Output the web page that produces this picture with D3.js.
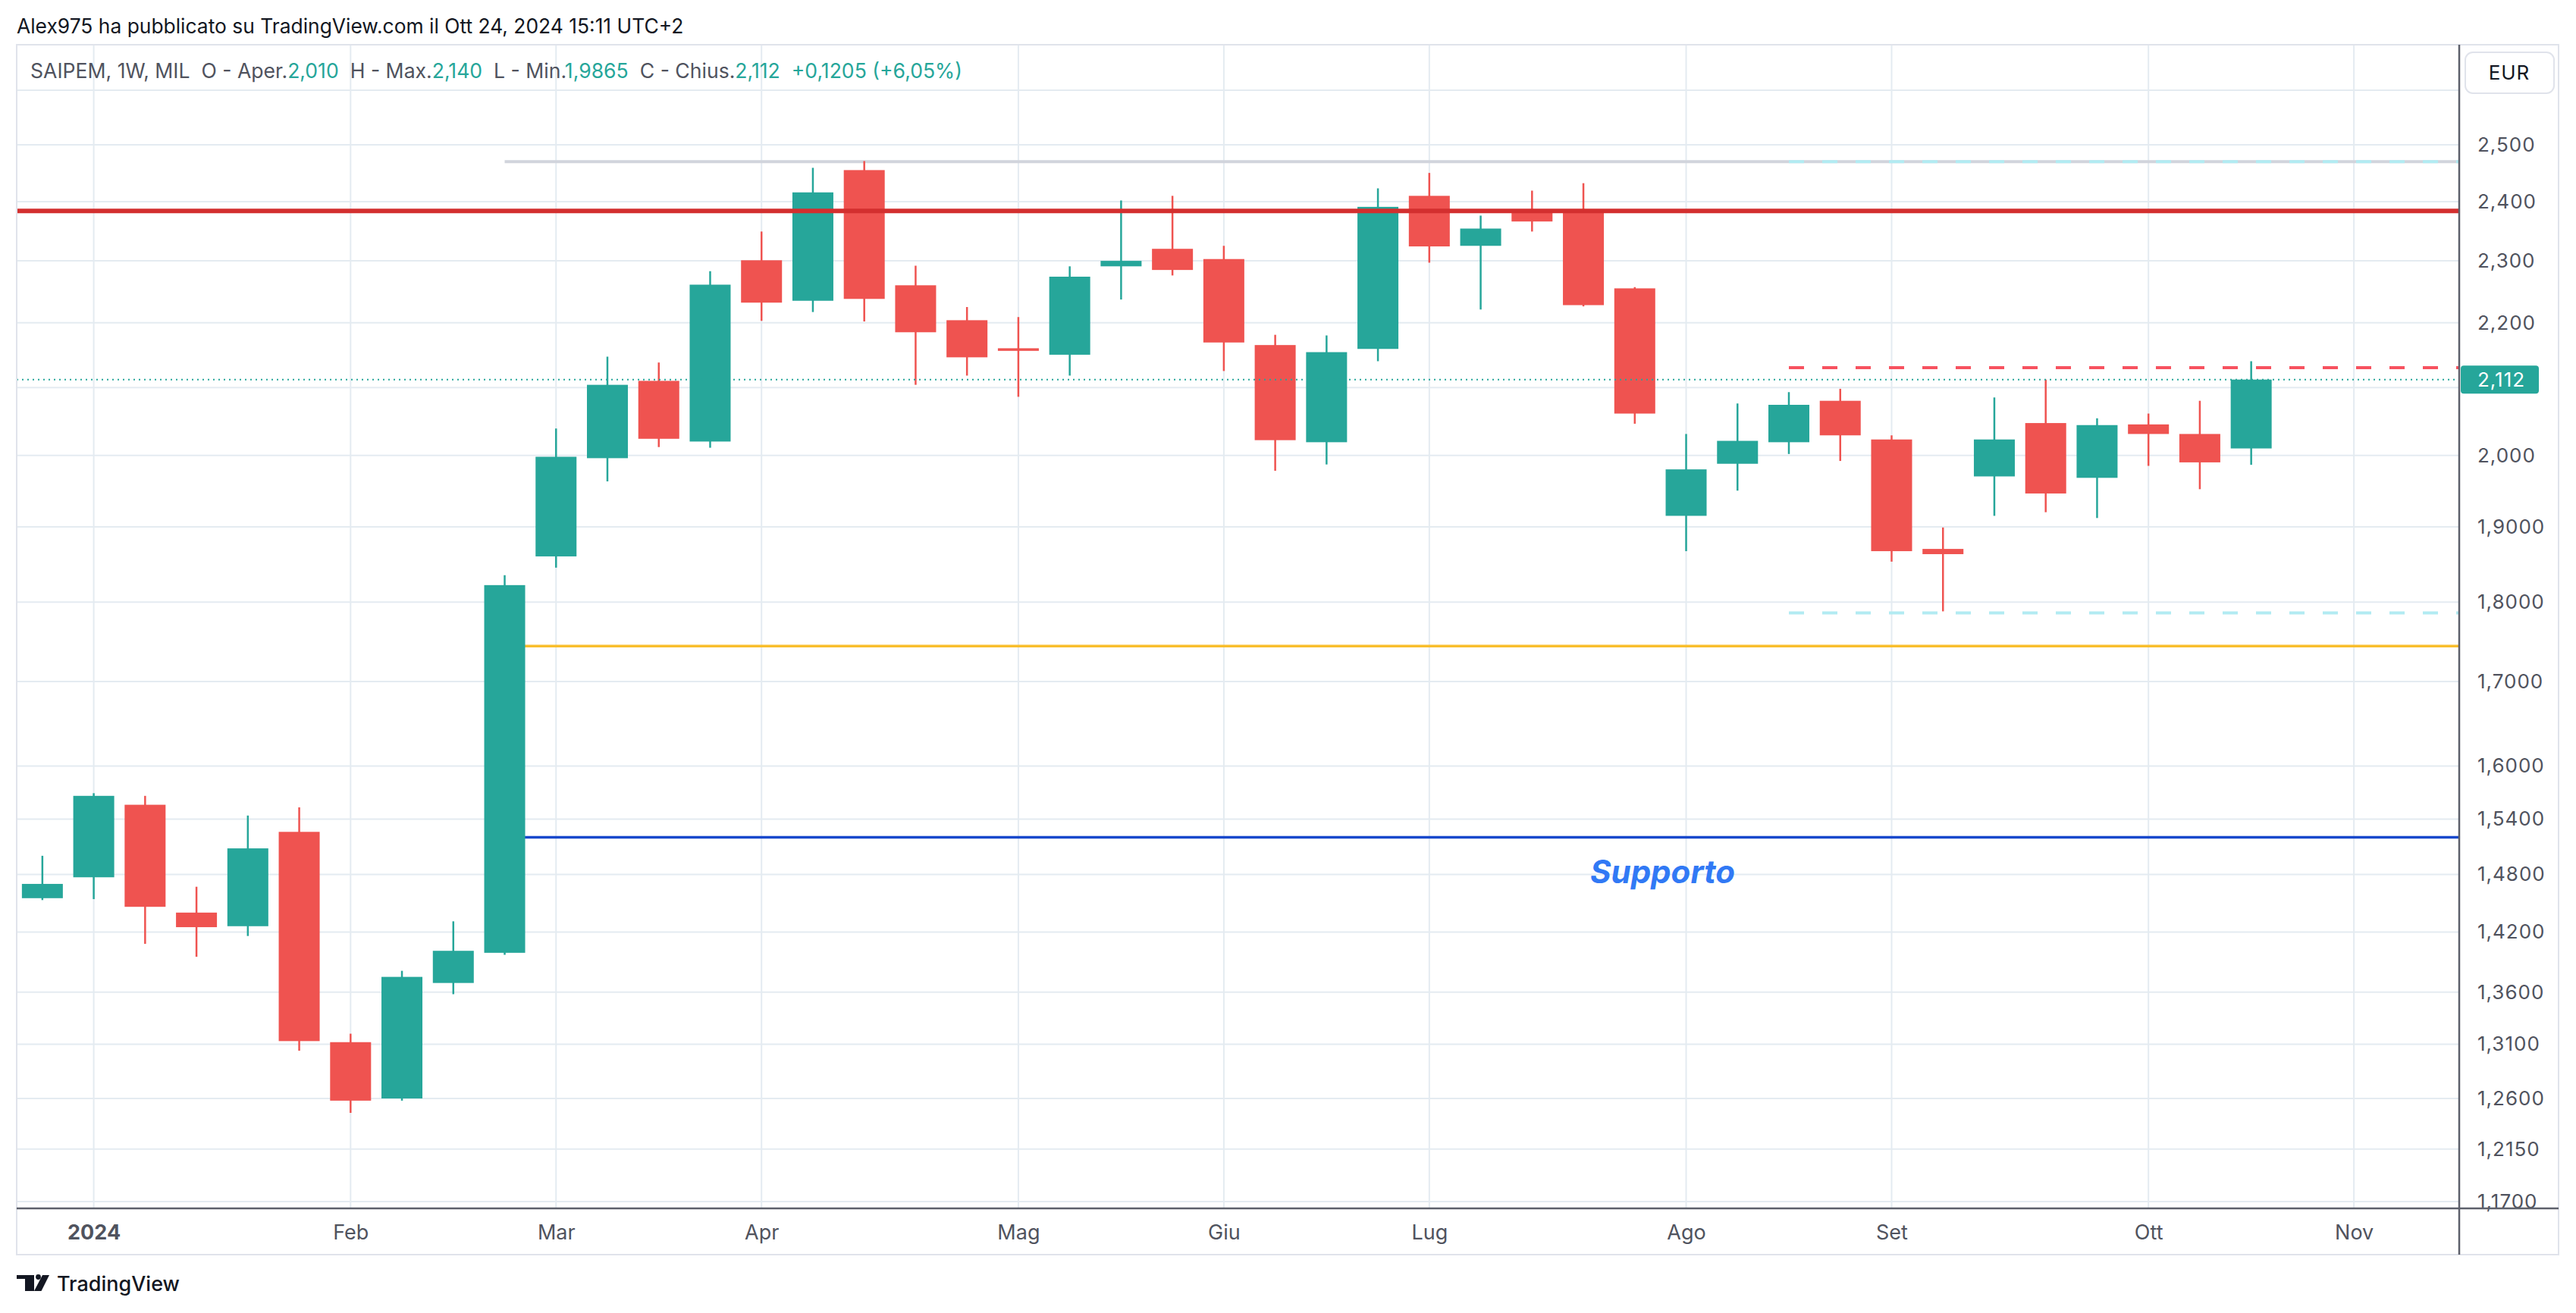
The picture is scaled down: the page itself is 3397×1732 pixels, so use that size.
<!DOCTYPE html>
<html>
<head>
<meta charset="utf-8">
<script src="https://cdn.jsdelivr.net/npm/d3@7"></script>
<style>
  html, body { margin: 0; padding: 0; background: #ffffff; }
  svg { display: block; font-family: "Inter", "Noto Sans", sans-serif; }
</style>
</head>
<body>
<div id="chart"></div>
<script>
// SAIPEM weekly candles (MIL), one bar per week, Monday dates
const weeks = [
  "2023-12-25", "2024-01-01", "2024-01-08", "2024-01-15", "2024-01-22", "2024-01-29",
  "2024-02-05", "2024-02-12", "2024-02-19", "2024-02-26", "2024-03-04", "2024-03-11",
  "2024-03-18", "2024-03-25", "2024-04-01", "2024-04-08", "2024-04-15", "2024-04-22",
  "2024-04-29", "2024-05-06", "2024-05-13", "2024-05-20", "2024-05-27", "2024-06-03",
  "2024-06-10", "2024-06-17", "2024-06-24", "2024-07-01", "2024-07-08", "2024-07-15",
  "2024-07-22", "2024-07-29", "2024-08-05", "2024-08-12", "2024-08-19", "2024-08-26",
  "2024-09-02", "2024-09-09", "2024-09-16", "2024-09-23", "2024-09-30", "2024-10-07",
  "2024-10-14", "2024-10-21"
];
const opens = [
  1.455, 1.477, 1.556, 1.440, 1.426, 1.526, 1.312, 1.260, 1.369, 1.399, 1.860, 1.996,
  2.110, 2.020, 2.301, 2.235, 2.455, 2.260, 2.204, 2.160, 2.150, 2.291, 2.320, 2.303,
  2.165, 2.019, 2.159, 2.410, 2.325, 2.382, 2.386, 2.255, 1.915, 1.988, 2.019, 2.080,
  2.023, 1.870, 1.970, 2.047, 1.968, 2.045, 2.031, 2.010
];
const highs = [
  1.500, 1.569, 1.566, 1.467, 1.544, 1.553, 1.320, 1.381, 1.431, 1.835, 2.039, 2.147,
  2.138, 2.283, 2.349, 2.459, 2.471, 2.292, 2.225, 2.209, 2.291, 2.402, 2.410, 2.325,
  2.181, 2.180, 2.423, 2.450, 2.376, 2.419, 2.432, 2.257, 2.031, 2.076, 2.093, 2.098,
  2.029, 1.899, 2.085, 2.112, 2.054, 2.061, 2.080, 2.140
];
const lows = [
  1.453, 1.454, 1.408, 1.395, 1.416, 1.304, 1.247, 1.258, 1.358, 1.397, 1.845, 1.963,
  2.012, 2.011, 2.203, 2.217, 2.202, 2.104, 2.118, 2.086, 2.118, 2.237, 2.276, 2.125,
  1.978, 1.987, 2.140, 2.297, 2.221, 2.349, 2.226, 2.046, 1.867, 1.950, 2.002, 1.992,
  1.853, 1.788, 1.915, 1.920, 1.912, 1.985, 1.952, 1.9865
];
const closes = [
  1.470, 1.566, 1.446, 1.425, 1.508, 1.313, 1.258, 1.375, 1.401, 1.822, 1.998, 2.104,
  2.024, 2.261, 2.232, 2.416, 2.238, 2.185, 2.146, 2.156, 2.274, 2.300, 2.285, 2.169,
  2.022, 2.154, 2.391, 2.324, 2.354, 2.366, 2.228, 2.061, 1.980, 2.021, 2.074, 2.029,
  1.867, 1.863, 2.023, 1.946, 2.044, 2.031, 1.990, 2.112
];

// price axis (2,600 sits under the EUR button, 2,100 under the last price tag)
const priceTicks = [2.6, 2.5, 2.4, 2.3, 2.2, 2.1, 2.0, 1.9, 1.8, 1.7, 1.6, 1.54, 1.48, 1.42, 1.36, 1.31, 1.26, 1.215, 1.17];
const priceLabels = ["", "2,500", "2,400", "2,300", "2,200", "", "2,000", "1,9000", "1,8000", "1,7000",
  "1,6000", "1,5400", "1,4800", "1,4200", "1,3600", "1,3100", "1,2600", "1,2150", "1,1700"];

// time axis: first weekly bar of each month
const monthDates = ["2024-01-01", "2024-02-05", "2024-03-04", "2024-04-01", "2024-05-06", "2024-06-03",
  "2024-07-01", "2024-08-05", "2024-09-02", "2024-10-07", "2024-11-04"];
const monthLabels = ["2024", "Feb", "Mar", "Apr", "Mag", "Giu", "Lug", "Ago", "Set", "Ott", "Nov"];

// drawn levels
const resistance = 2.384;
const topLevel = 2.470;
const yellowLevel = 1.744;
const supportLevel = 1.520;
const levelsFrom = "2024-02-26";
const targetUp = 2.130;
const targetDown = 1.786;
const targetFrom = "2024-08-19";
const lastPrice = 2.112;

const W = 3397, H = 1732;
const pane = { left: 22, top: 59, right: 3243, bottom: 1594 };
const frame = { right: 3374, bottom: 1655 };

const up = "#26a69a", down = "#ef5350";
const gridColor = "#e4ebf1";
const axisText = "#50535e";

const parse = d3.utcParse("%Y-%m-%d");
const WEEK = 7 * 24 * 3600 * 1000;
const t0 = parse(weeks[0]).getTime();

const x = d3.scaleUtc()
  .domain([new Date(t0 - 0.5 * WEEK), new Date(t0 + 47.05 * WEEK)])
  .range([pane.left, pane.right]);

const y = d3.scaleLog()
  .domain([1.1643, 2.6864])
  .range([pane.bottom, pane.top]);

const bars = weeks.map((w, i) => ({
  date: parse(w), o: opens[i], h: highs[i], l: lows[i], c: closes[i]
}));

const svg = d3.select("#chart").append("svg")
  .attr("width", W).attr("height", H);

svg.append("rect").attr("width", W).attr("height", H).attr("fill", "#ffffff");

svg.append("defs").append("clipPath").attr("id", "pane-clip")
  .append("rect")
  .attr("x", pane.left).attr("y", pane.top)
  .attr("width", pane.right - pane.left).attr("height", pane.bottom - pane.top);

// header
svg.append("text")
  .attr("x", 22).attr("y", 44)
  .attr("font-size", 26.4).attr("fill", "#131722")
  .text("Alex975 ha pubblicato su TradingView.com il Ott 24, 2024 15:11 UTC+2");

// grid
const grid = svg.append("g").attr("clip-path", "url(#pane-clip)");
grid.selectAll("line.h").data(priceTicks).join("line")
  .attr("class", "h")
  .attr("x1", pane.left).attr("x2", pane.right)
  .attr("y1", d => y(d)).attr("y2", d => y(d))
  .attr("stroke", gridColor).attr("stroke-width", 2);
grid.selectAll("line.v").data(monthDates).join("line")
  .attr("class", "v")
  .attr("x1", d => x(parse(d))).attr("x2", d => x(parse(d)))
  .attr("y1", pane.top).attr("y2", pane.bottom)
  .attr("stroke", gridColor).attr("stroke-width", 2);

// levels and drawings
const draw = svg.append("g").attr("clip-path", "url(#pane-clip)");
const xFrom = x(parse(levelsFrom));
const xTarget = x(parse(targetFrom));

draw.append("line")
  .attr("x1", xFrom).attr("x2", pane.right)
  .attr("y1", y(topLevel)).attr("y2", y(topLevel))
  .attr("stroke", "#d1d4dc").attr("stroke-width", 4);
draw.append("line")
  .attr("x1", xTarget).attr("x2", pane.right)
  .attr("y1", y(topLevel)).attr("y2", y(topLevel))
  .attr("stroke", "#b2ebf2").attr("stroke-width", 4)
  .attr("stroke-dasharray", "20,24");
draw.append("line")
  .attr("x1", xFrom).attr("x2", pane.right)
  .attr("y1", y(yellowLevel)).attr("y2", y(yellowLevel))
  .attr("stroke", "#f9be2c").attr("stroke-width", 3.5);
draw.append("line")
  .attr("x1", xFrom).attr("x2", pane.right)
  .attr("y1", y(supportLevel)).attr("y2", y(supportLevel))
  .attr("stroke", "#1848cc").attr("stroke-width", 3.5);
draw.append("line")
  .attr("x1", xTarget).attr("x2", pane.right)
  .attr("y1", y(targetUp)).attr("y2", y(targetUp))
  .attr("stroke", "#f7525f").attr("stroke-width", 4)
  .attr("stroke-dasharray", "20,24");
draw.append("line")
  .attr("x1", xTarget).attr("x2", pane.right)
  .attr("y1", y(targetDown)).attr("y2", y(targetDown))
  .attr("stroke", "#b2ebf2").attr("stroke-width", 4)
  .attr("stroke-dasharray", "20,24");

draw.append("text")
  .attr("x", 2097).attr("y", 1165)
  .attr("font-size", 42).attr("font-weight", 700).attr("font-style", "italic")
  .attr("fill", "#3179f5")
  .text("Supporto");

// candles
const bodyW = 54;
const candles = svg.append("g").attr("clip-path", "url(#pane-clip)")
  .selectAll("g").data(bars).join("g");
candles.append("line")
  .attr("x1", d => x(d.date)).attr("x2", d => x(d.date))
  .attr("y1", d => y(d.h)).attr("y2", d => y(d.l))
  .attr("stroke", d => d.c >= d.o ? up : down)
  .attr("stroke-width", 2.5);
candles.append("rect")
  .attr("x", d => x(d.date) - bodyW / 2)
  .attr("width", bodyW)
  .attr("y", d => y(Math.max(d.o, d.c)))
  .attr("height", d => Math.max(2, y(Math.min(d.o, d.c)) - y(Math.max(d.o, d.c))))
  .attr("fill", d => d.c >= d.o ? up : down);

// resistance on top of candles
svg.append("line")
  .attr("x1", pane.left).attr("x2", pane.right)
  .attr("y1", y(resistance)).attr("y2", y(resistance))
  .attr("stroke", "#d32f2f").attr("stroke-width", 6);

// last price line
svg.append("line")
  .attr("x1", pane.left).attr("x2", pane.right)
  .attr("y1", y(lastPrice)).attr("y2", y(lastPrice))
  .attr("stroke", up).attr("stroke-width", 2)
  .attr("stroke-dasharray", "2,5");

// legend
const legend = svg.append("text")
  .attr("x", 40).attr("y", 103)
  .attr("font-size", 26.6).attr("fill", axisText)
  .attr("xml:space", "preserve").style("white-space", "pre");
[
  ["SAIPEM, 1W, MIL  O - Aper.", axisText], ["2,010", up],
  ["  H - Max.", axisText], ["2,140", up],
  ["  L - Min.", axisText], ["1,9865", up],
  ["  C - Chius.", axisText], ["2,112", up],
  ["  +0,1205 (+6,05%)", up]
].forEach(([t, c]) => legend.append("tspan").attr("fill", c).text(t));

// frame
svg.append("rect")
  .attr("x", pane.left).attr("y", pane.top)
  .attr("width", frame.right - pane.left).attr("height", frame.bottom - pane.top)
  .attr("fill", "none").attr("stroke", "#e0e3eb").attr("stroke-width", 2);

// price axis
const yAxis = svg.append("g")
  .attr("transform", `translate(${pane.right},0)`)
  .call(d3.axisRight(y).tickValues(priceTicks).tickSize(0).tickPadding(24)
    .tickFormat((d, i) => priceLabels[i]));
yAxis.select(".domain").remove();
yAxis.selectAll("text")
  .attr("font-size", 26).attr("font-family", "Inter, sans-serif")
  .attr("fill", axisText).attr("letter-spacing", 1);

// time axis
const xAxis = svg.append("g")
  .attr("transform", `translate(0,${pane.bottom})`)
  .call(d3.axisBottom(x).tickValues(monthDates.map(parse)).tickSize(0).tickPadding(22)
    .tickFormat((d, i) => monthLabels[i]));
xAxis.select(".domain").remove();
xAxis.selectAll("text")
  .attr("font-size", 27).attr("font-family", "Inter, sans-serif")
  .attr("fill", axisText)
  .attr("font-weight", (d, i) => i === 0 ? 700 : 400);

// axis separators
svg.append("line")
  .attr("x1", pane.left).attr("x2", frame.right)
  .attr("y1", pane.bottom).attr("y2", pane.bottom)
  .attr("stroke", "#5d606b").attr("stroke-width", 2.5);
svg.append("line")
  .attr("x1", pane.right).attr("x2", pane.right)
  .attr("y1", pane.top).attr("y2", frame.bottom)
  .attr("stroke", "#5d606b").attr("stroke-width", 2.5);

// last price label
const ly = y(lastPrice);
svg.append("rect")
  .attr("x", pane.right + 2).attr("y", ly - 18.5)
  .attr("width", 103).attr("height", 37).attr("rx", 4)
  .attr("fill", up);
svg.append("text")
  .attr("x", pane.right + 24).attr("y", ly).attr("dy", "0.35em")
  .attr("font-size", 26).attr("letter-spacing", 1).attr("fill", "#ffffff")
  .text("2,112");

// currency button
svg.append("rect")
  .attr("x", 3251).attr("y", 69).attr("width", 117).attr("height", 54).attr("rx", 10)
  .attr("fill", "#ffffff").attr("stroke", "#e0e3eb").attr("stroke-width", 2);
svg.append("text")
  .attr("x", 3309).attr("y", 96).attr("dy", "0.35em")
  .attr("text-anchor", "middle").attr("font-size", 26).attr("letter-spacing", 1)
  .attr("fill", "#131722")
  .text("EUR");

// TradingView mark
const logo = svg.append("g").attr("fill", "#131722");
logo.append("path").attr("d", "M22,1682 H45 V1703 H33 V1687 H22 Z");
logo.append("circle").attr("cx", 50.5).attr("cy", 1684.5).attr("r", 3.4);
logo.append("path").attr("d", "M56,1682 H65 L54.5,1703 H45 Z");
svg.append("text")
  .attr("x", 75).attr("y", 1703)
  .attr("font-size", 27).attr("font-weight", 500).attr("fill", "#131722")
  .text("TradingView");
</script>
</body>
</html>
